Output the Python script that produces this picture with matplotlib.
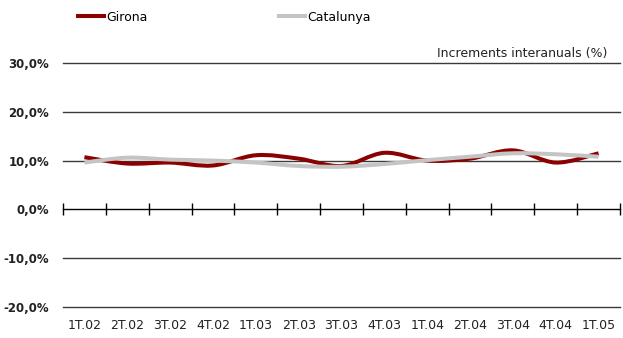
import matplotlib
matplotlib.use("Agg")
import matplotlib.pyplot as plt
from matplotlib.path import Path
from matplotlib.patches import PathPatch
from matplotlib.lines import Line2D

# Data
quarters = ["1T.02", "2T.02", "3T.02", "4T.02", "1T.03", "2T.03", "3T.03",
            "4T.03", "1T.04", "2T.04", "3T.04", "4T.04", "1T.05"]
girona = [10.7, 9.4, 9.6, 9.0, 11.1, 10.4, 8.9, 11.6, 10.0, 10.4, 12.1, 9.6, 11.5]
catalunya = [9.6, 10.6, 10.2, 10.0, 9.6, 8.9, 8.75, 9.3, 10.1, 10.8, 11.5, 11.3, 10.8]
yticks = [-20, -10, 0, 10, 20, 30]

red = "#8b0000"
grey = "#c4c4c4"


def smooth_path(values):
    # smoothed line (bezier through every point)
    pts = list(zip(range(len(values)), values))
    verts = [pts[0]]
    codes = [Path.MOVETO]
    for i in range(len(pts) - 1):
        p0 = pts[i - 1] if i > 0 else pts[i]
        p1 = pts[i]
        p2 = pts[i + 1]
        p3 = pts[i + 2] if i + 2 < len(pts) else pts[i + 1]
        c1 = (p1[0] + (p2[0] - p0[0]) / 6, p1[1] + (p2[1] - p0[1]) / 6)
        c2 = (p2[0] - (p3[0] - p1[0]) / 6, p2[1] - (p3[1] - p1[1]) / 6)
        verts += [c1, c2, p2]
        codes += [Path.CURVE4, Path.CURVE4, Path.CURVE4]
    return Path(verts, codes)


fig = plt.figure(figsize=(6.23, 3.38), dpi=100)
ax = fig.add_axes([0.1011, 0.0917, 0.8941, 0.7219])

ax.add_patch(PathPatch(smooth_path(girona), facecolor="none", edgecolor=red,
                       lw=2.9, capstyle="butt", zorder=3))
ax.add_patch(PathPatch(smooth_path(catalunya), facecolor="none", edgecolor=grey,
                       lw=2.9, capstyle="butt", zorder=4))

ax.set_xlim(-0.5, len(quarters) - 0.5)
ax.set_ylim(-20, 30)

# grid lines
for v in yticks:
    if v != 0:
        ax.axhline(v, color="#3a3a3a", lw=1, zorder=1, clip_on=False)

for s in ["left", "right", "top"]:
    ax.spines[s].set_visible(False)
ax.spines["bottom"].set_position(("data", 0))
ax.spines["bottom"].set_color("black")
ax.spines["bottom"].set_linewidth(1)

ax.set_yticks(yticks)
ax.set_yticklabels([("%.1f%%" % v).replace(".", ",") for v in yticks],
                   fontsize=8.5, fontweight="bold", color="#222222")
ax.tick_params(axis="y", length=0, pad=10)

ax.set_xticks(range(len(quarters)))
ax.set_xticklabels(quarters, fontsize=9, color="#222222")
ax.set_xticks([i - 0.5 for i in range(len(quarters) + 1)], minor=True)
ax.tick_params(axis="x", which="major", length=0, pad=79)
ax.tick_params(axis="x", which="minor", direction="inout", length=8, width=1, color="black")

ax.text(0.977, 1.012, "Increments interanuals (%)", transform=ax.transAxes,
        ha="right", va="bottom", fontsize=9, color="#222222")

handles = [Line2D([], [], color=red, lw=2.9), Line2D([], [], color=grey, lw=2.9)]
fig.legend(handles, ["Girona", "Catalunya"], loc="upper left", bbox_to_anchor=(0.107, 1.002),
           ncol=2, frameon=False, fontsize=9, handlelength=2.1, handletextpad=0.15,
           columnspacing=10.5)

plt.savefig("out.png", dpi=100)
